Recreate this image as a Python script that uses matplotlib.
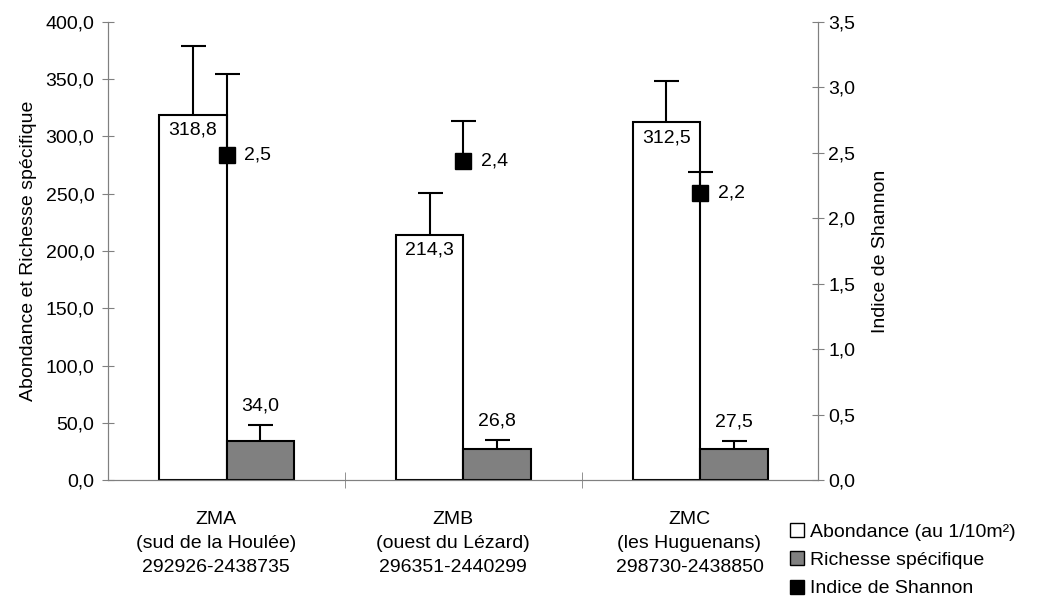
import numpy as np
import matplotlib.pyplot as plt
from matplotlib.lines import Line2D

plt.rcParams['font.family'] = ['Liberation Sans', 'DejaVu Sans']

# Data
zones = ["ZMA\n(sud de la Houlée)\n292926-2438735",
         "ZMB\n(ouest du Lézard)\n296351-2440299",
         "ZMC\n(les Huguenans)\n298730-2438850"]
abondance = [318.8, 214.3, 312.5]
abondance_err = [60, 36, 36]
richesse = [34.0, 26.8, 27.5]
richesse_err = [14, 8, 6.5]
shannon = [2.48, 2.44, 2.19]
shannon_err = [0.62, 0.30, 0.16]


def fmt(v):
    return f"{v:.1f}".replace(".", ",")


def upper_errorbar(a, xs, ys, err, **kw):
    # only the "+" side, without the cap sitting on the value itself
    eb = a.errorbar(xs, ys, yerr=[np.zeros(len(xs)), err], capsize=9, capthick=1.5,
                    elinewidth=1.5, ecolor="black", **kw)
    eb[1][0].set_visible(False)
    return eb


fs = 14
fig = plt.figure(figsize=(10.4, 6.1), dpi=100)
ax = fig.add_axes([0.104, 0.213, 0.683, 0.751])
ax2 = ax.twinx()

x = np.arange(len(zones))
w = 0.285

ax.bar(x - w / 2, abondance, w, color="white", edgecolor="black", linewidth=1.5, zorder=2)
ax.bar(x + w / 2, richesse, w, color="#808080", edgecolor="black", linewidth=1.5, zorder=2)
upper_errorbar(ax, x - w / 2, abondance, abondance_err, fmt="none", zorder=3)
upper_errorbar(ax, x + w / 2, richesse, richesse_err, fmt="none", zorder=3)

for i in range(3):
    ax.text(x[i] - w / 2, abondance[i] - 6, fmt(abondance[i]), ha="center", va="top", fontsize=fs)
    ax.text(x[i] + w / 2, richesse[i] + richesse_err[i] + 9, fmt(richesse[i]),
            ha="center", va="bottom", fontsize=fs)

upper_errorbar(ax2, x, shannon, shannon_err, fmt="s", color="black", markersize=11.5, zorder=4)
for i in range(3):
    ax2.text(x[i] + 0.075, shannon[i], fmt(shannon[i]), ha="left", va="center", fontsize=fs)

ax.set_xlim(-0.5, 2.5)
ax.set_ylim(0, 400)
ax2.set_ylim(0, 3.5)
ax.set_yticks(np.arange(0, 401, 50))
ax.set_yticklabels([fmt(v) for v in np.arange(0, 401, 50)], fontsize=fs)
ax2.set_yticks(np.arange(0, 3.51, 0.5))
ax2.set_yticklabels([fmt(v) for v in np.arange(0, 3.51, 0.5)], fontsize=fs)

ax.set_xticks(x - 0.045)
ax.set_xticklabels(zones, fontsize=fs, linespacing=1.55)
ax.tick_params(axis="x", length=0, pad=22)
ax.set_xticks([0.5, 1.5], minor=True)
ax.tick_params(axis="x", which="minor", direction="inout", length=12, color="#808080")
ax.tick_params(axis="y", direction="inout", length=8, color="#808080", pad=6)
ax2.tick_params(axis="y", direction="inout", length=8, color="#808080", pad=3)

for a in (ax, ax2):
    a.spines["top"].set_visible(False)
    for s in ("left", "right", "bottom"):
        a.spines[s].set_color("#808080")

ax.set_ylabel("Abondance et Richesse spécifique", fontsize=fs, labelpad=6)
ax2.set_ylabel("Indice de Shannon", fontsize=fs, labelpad=12)

handles = [
    Line2D([], [], marker="s", linestyle="none", markerfacecolor=c,
           markeredgecolor="black", markersize=9.5)
    for c in ("white", "#808080", "black")
]
fig.legend(handles, ["Abondance (au 1/10m²)", "Richesse spécifique", "Indice de Shannon"],
           loc="lower left", bbox_to_anchor=(0.742, -0.005), frameon=False, fontsize=fs,
           handletextpad=0.15, handlelength=1.0, labelspacing=0.55, borderpad=0.3)

fig.savefig("out.png", dpi=100)
